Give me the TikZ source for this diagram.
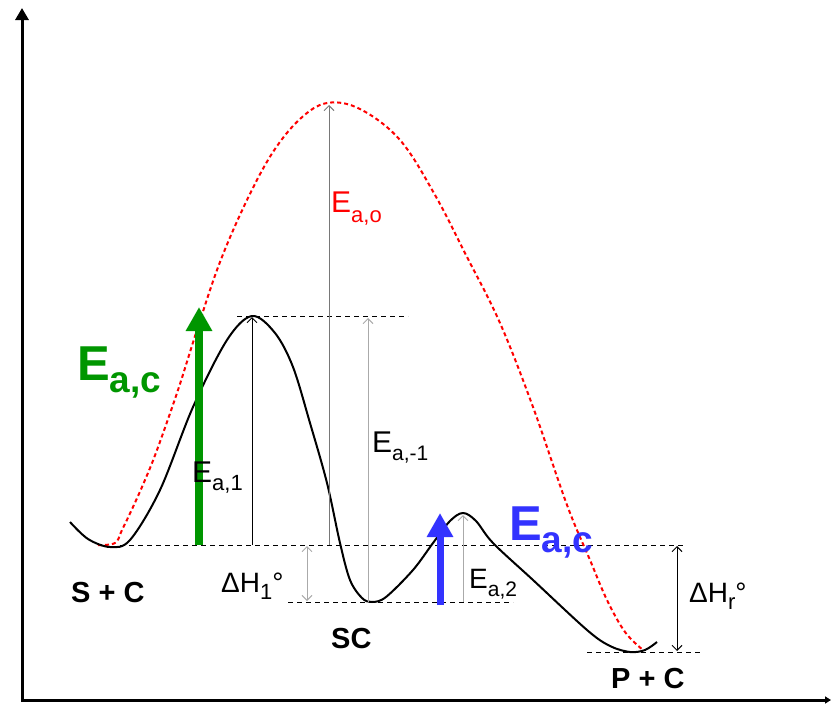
\documentclass[tikz,border=0pt]{standalone}
\usepackage{fontspec}
\setmainfont{Liberation Sans}
\usetikzlibrary{arrows.meta}
\definecolor{egreen}{RGB}{0,150,0}
\definecolor{eblue}{RGB}{51,51,255}
\definecolor{ered}{RGB}{255,0,0}
\definecolor{lgray}{RGB}{170,170,170}
\definecolor{mgray}{RGB}{120,120,120}
\newcommand\elab[5]{\fontsize{#1}{#1}\selectfont #4\raisebox{-#3}{\fontsize{#2}{#2}\selectfont #5}}
\begin{document}
\begin{tikzpicture}[x=1pt,y=-1pt,
  level/.style={line width=1pt,dash pattern=on 5pt off 4pt},
  thinarr/.style={line width=1pt,-{Straight Barb[length=5pt,width=10pt]}},
  dblarr/.style={line width=1pt,{Straight Barb[length=5pt,width=10pt]}-{Straight Barb[length=5pt,width=10pt]}},
  lbl/.style={inner sep=0pt,anchor=base west},
  bigarr/.style={-{Triangle[length=24pt,width=25pt]}}]
\useasboundingbox (0,0) rectangle (832,704);
% coordinates
\coordinate (ytop) at (22,8);
\coordinate (orig) at (22,700);
\coordinate (xend) at (831,700);
\coordinate (lv1a) at (237,316);
\coordinate (lv1b) at (408,316);
\coordinate (lv0a) at (120,545);
\coordinate (lv0b) at (686,545);
\coordinate (lvSa) at (288,602);
\coordinate (lvSb) at (513,602);
\coordinate (lvPa) at (587,652);
\coordinate (lvPb) at (703,652);
\coordinate (e1b) at (252,545);
\coordinate (e1t) at (252,317);
\coordinate (eob) at (329,545);
\coordinate (eot) at (329,105);
\coordinate (emb) at (368,602);
\coordinate (emt) at (368,318);
\coordinate (h1t) at (307,546);
\coordinate (h1b) at (307,601);
\coordinate (e2b) at (463,602);
\coordinate (e2t) at (463,515);
\coordinate (hrt) at (677,546);
\coordinate (hrb) at (677,651);
\coordinate (gb) at (199,545);
\coordinate (gt) at (199,307);
\coordinate (bb) at (440,605);
\coordinate (bt) at (440,513);
% axes
\draw[line width=3pt,{Triangle[length=12pt,width=13pt]}-{Triangle[length=6pt,width=7pt]}] (ytop) -- (orig) -- (xend);
% level lines
\draw[level] (lv1a) -- (lv1b);
\draw[level] (lv0a) -- (lv0b);
\draw[level] (lvSa) -- (lvSb);
\draw[level] (lvPa) -- (lvPb);
% red uncatalysed curve
\draw[ered,line width=2pt,dash pattern=on 4pt off 3pt] plot[smooth,tension=0.6] coordinates {
 (98,545) (115,543) (122,530) (133,507) (145,480) (157,450) (178,390) (197,330) (220,262) (247,200) (273,152) (300,119) (327,103) (360,109) (400,140) (435,195) (467,257) (500,323) (533,407) (567,505) (590,560) (607,600) (625,632) (643,650)};
% black catalysed curve
\draw[line width=2pt,line join=round] plot[smooth,tension=0.55] coordinates {
 (70,522) (88,539) (110,547) (130,540) (160,490) (193,407) (227,340) (252,316) (275,333) (293,367) (310,423) (327,483) (340,543) (350,580) (362,598) (372,602) (386,597) (413,570) (433,543) (450,521) (463,513) (476,521) (493,543) (533,580) (587,630) (610,646) (630,652) (645,650) (657,642)};
% energy arrows
\draw[thinarr] (e1b) -- (e1t);
\draw[thinarr,mgray] (eob) -- (eot);
\draw[thinarr,lgray] (emb) -- (emt);
\draw[dblarr,lgray] (h1t) -- (h1b);
\draw[thinarr,lgray] (e2b) -- (e2t);
\draw[dblarr] (hrt) -- (hrb);
% big coloured arrows
\draw[bigarr,egreen,line width=8pt] (gb) -- (gt);
\draw[bigarr,eblue,line width=7pt] (bb) -- (bt);
% labels
\node[lbl,text=egreen,font=\bfseries] (lg) at (77,380) {\elab{49}{37}{12pt}{E}{a,c}};
\node[lbl,text=eblue,font=\bfseries] (lb) at (509,540) {\elab{49}{37}{12pt}{E}{a,c}};
\node[lbl,text=ered] (lo) at (331,212) {\elab{30}{22}{10pt}{E}{a,o}};
\node[lbl] (l1) at (192,482) {\elab{30}{22}{8pt}{E}{a,1}};
\node[lbl] (lm) at (372,452) {\elab{30}{21}{8pt}{E}{a,-1}};
\node[lbl] (l2) at (469,588) {\elab{28}{21}{8pt}{E}{a,2}};
\node[lbl] (lh1) at (221,592) {\elab{28}{22}{7pt}{ΔH}{1}\fontsize{28}{28}\selectfont °};
\node[lbl] (lhr) at (689,602) {\elab{28}{22}{7pt}{ΔH}{r}\fontsize{28}{28}\selectfont °};
\node[lbl,font=\bfseries\fontsize{29}{29}\selectfont] (sc0) at (71,602) {S + C};
\node[lbl,font=\bfseries\fontsize{29}{29}\selectfont] (sc) at (331,648) {SC};
\node[lbl,font=\bfseries\fontsize{29}{29}\selectfont] (pc) at (611,688) {P + C};
\end{tikzpicture}
\end{document}
